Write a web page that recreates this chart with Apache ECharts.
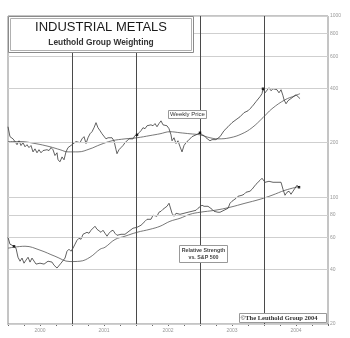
<!DOCTYPE html>
<html><head><meta charset="utf-8">
<script src="https://cdn.jsdelivr.net/npm/echarts@6/dist/echarts.min.js"></script>
<style>html,body{margin:0;padding:0;background:#fff}#c{width:350px;height:338px}</style>
</head><body><div id="c"></div>
<script>
// Weekly price (decimal year, value)
const priceX = [2000.000,2000.031,2000.078,2000.109,2000.141,2000.172,2000.203,2000.234,2000.266,2000.297,2000.328,2000.359,2000.391,2000.422,2000.453,2000.484,2000.516,2000.547,2000.578,2000.609,2000.641,2000.672,2000.703,2000.734,2000.766,2000.781,2000.813,2000.844,2000.875,2000.906,2000.938,2000.969,
2001.000,2001.031,2001.063,2001.094,2001.125,2001.156,2001.188,2001.219,2001.250,2001.281,2001.313,2001.344,2001.375,2001.406,2001.438,2001.469,2001.500,2001.531,2001.563,2001.594,2001.625,2001.656,2001.688,2001.703,2001.734,2001.766,2001.797,2001.828,2001.859,2001.891,2001.922,2001.953,2001.984,
2002.016,2002.047,2002.078,2002.109,2002.141,2002.172,2002.203,2002.234,2002.266,2002.297,2002.328,2002.359,2002.391,2002.422,2002.453,2002.484,2002.516,2002.547,2002.563,2002.594,2002.625,2002.656,2002.688,2002.719,2002.750,2002.781,2002.813,2002.844,2002.875,2002.906,2002.938,2002.969,
2003.000,2003.031,2003.063,2003.094,2003.125,2003.156,2003.188,2003.219,2003.250,2003.281,2003.313,2003.344,2003.375,2003.406,2003.438,2003.469,2003.500,2003.531,2003.563,2003.594,2003.625,2003.656,2003.688,2003.719,2003.750,2003.781,2003.813,2003.844,2003.875,2003.906,2003.938,2003.969,2003.984,
2004.016,2004.047,2004.078,2004.109,2004.141,2004.172,2004.203,2004.234,2004.266,2004.297,2004.313,2004.344,2004.375,2004.406,2004.438,2004.469,2004.500,2004.531,2004.563];
const priceY = [245,216,210,203,195,205,193,200,190,195,188,193,178,185,176,183,176,181,178,183,181,188,183,170,176,161,157,167,161,178,188,190,
195,193,203,208,200,210,216,198,213,224,230,242,258,242,233,224,219,210,213,208,213,205,183,174,183,188,193,200,198,210,213,210,219,
221,227,233,242,239,248,245,251,248,255,245,255,264,251,245,248,239,221,205,213,198,205,190,178,193,200,205,210,216,219,221,224,
227,221,219,213,216,205,208,210,208,213,216,221,233,236,245,248,258,261,268,271,278,285,293,289,300,308,316,324,337,345,359,373,397,
377,368,402,387,397,407,392,377,392,363,345,328,341,345,354,359,368,359,350];

// Price moving average
const priceMaX = [2000.000,2000.188,2000.422,2000.656,2000.813,2000.938,2001.094,2001.281,2001.438,2001.625,2001.828,2002.016,2002.219,2002.375,2002.531,2002.688,2002.844,2003.000,2003.156,2003.281,2003.469,2003.656,2003.813,2003.984,2004.125,2004.328,2004.484,2004.563];
const priceMaY = [203,203,198,190,183,178,178,185,195,205,210,213,219,224,230,227,224,221,213,210,213,224,242,275,308,345,363,373];

// Relative strength vs. S&P 500
const rsX = [2000.000,2000.031,2000.063,2000.094,2000.125,2000.156,2000.188,2000.219,2000.250,2000.281,2000.313,2000.344,2000.375,2000.406,2000.438,2000.469,2000.500,2000.531,2000.563,2000.594,2000.625,2000.656,2000.688,2000.719,2000.750,2000.766,2000.797,2000.828,2000.859,2000.891,2000.922,2000.953,2000.984,
2001.016,2001.047,2001.078,2001.109,2001.141,2001.172,2001.203,2001.234,2001.266,2001.297,2001.328,2001.359,2001.391,2001.422,2001.453,2001.484,2001.516,2001.547,2001.578,2001.609,2001.641,2001.672,2001.703,2001.734,2001.766,2001.797,2001.828,2001.859,2001.891,2001.922,2001.953,2001.984,
2002.016,2002.047,2002.078,2002.109,2002.141,2002.172,2002.203,2002.234,2002.266,2002.297,2002.328,2002.359,2002.391,2002.422,2002.453,2002.484,2002.516,2002.531,2002.563,2002.594,2002.625,2002.656,2002.688,2002.719,2002.750,2002.781,2002.813,2002.844,2002.875,2002.906,2002.938,2002.969,
2003.000,2003.031,2003.063,2003.094,2003.125,2003.156,2003.188,2003.219,2003.250,2003.281,2003.313,2003.344,2003.375,2003.406,2003.438,2003.469,2003.500,2003.531,2003.563,2003.594,2003.625,2003.656,2003.688,2003.719,2003.750,2003.781,2003.813,2003.844,2003.875,2003.906,2003.938,2003.969,2003.984,
2004.016,2004.047,2004.078,2004.109,2004.141,2004.172,2004.203,2004.234,2004.266,2004.297,2004.328,2004.359,2004.391,2004.422,2004.453,2004.484,2004.516,2004.547];
const rsY = [60.2,55.1,54.4,53.7,52.4,46.7,44.4,46.2,43.3,45.0,46.7,43.9,46.2,45.6,42.8,42.2,43.3,43.9,42.8,43.3,44.4,45.0,43.9,42.2,41.2,40.7,41.7,43.3,43.9,46.2,50.4,51.7,50.4,
52.4,55.1,57.9,59.4,58.7,62.5,61.7,64.1,63.3,65.8,66.6,69.2,66.6,65.0,64.1,65.8,63.3,61.0,63.3,65.0,65.8,63.3,61.7,61.0,62.5,61.7,62.5,63.3,65.0,65.8,67.5,68.3,
68.3,67.5,70.1,71.9,73.7,75.6,76.6,75.6,79.6,80.6,78.6,82.7,83.7,85.9,87.0,89.2,92.7,93.9,81.6,78.6,81.6,79.6,80.6,79.6,81.6,80.6,82.7,81.6,83.7,82.7,84.8,87.0,
89.2,90.4,89.2,90.4,89.2,87.0,85.9,83.7,83.7,82.7,82.7,83.7,84.8,84.8,87.0,92.7,95.1,97.5,98.7,101.3,100,102.6,103.9,106.6,105.2,108.0,110.7,112.1,118.0,121.0,124.1,127.3,128.9,
121.0,119.5,122.5,119.5,121.0,118.0,121.0,122.5,121.0,110.7,102.6,106.6,108.0,103.9,108.0,110.7,116.5,113.6];

// Relative strength moving average
const rsMaX = [2000.000,2000.266,2000.500,2000.734,2000.969,2001.125,2001.281,2001.438,2001.516,2001.672,2001.828,2002.016,2002.219,2002.375,2002.531,2002.688,2002.844,2003.000,2003.234,2003.469,2003.703,2003.938,2004.125,2004.328,2004.563];
const rsMaY = [52.4,53.7,51.1,47.3,44.2,44.4,46.7,51.7,53.0,58.5,61.0,64.1,66.6,69.2,73.7,76.6,80.6,82.7,84.8,88.1,92.7,97.5,102.6,109.3,115.0];

const yTicks = [20,40,60,80,100,200,400,600,800,1000];
const yearLines = [2001,2002,2003,2004];
const yearLabels = ['2000','2001','2002','2003','2004'];
const dotPriceX = [2002.016,2003.000,2003.984];
const dotRsX = [2000.094,2004.547];

const zip = (xs, ys) => xs.map((x, i) => [x, ys[i]]);
const dots = [];
dotPriceX.forEach(d => { const i = priceX.indexOf(d); if (i >= 0) dots.push([priceX[i], priceY[i]]); });
dotRsX.forEach(d => { const i = rsX.indexOf(d); if (i >= 0) dots.push([rsX[i], rsY[i]]); });

const chart = echarts.init(document.getElementById('c'), null, {renderer: 'canvas'});
const lineBase = {type: 'line', showSymbol: false, symbol: 'none', silent: true, animation: false};
chart.setOption({
  animation: false,
  grid: {left: 8, right: 22, top: 16, bottom: 14, show: true, borderColor: '#8a8a8a', borderWidth: 1, backgroundColor: '#fff'},
  xAxis: {
    type: 'value', min: 2000, max: 2005, interval: 0.25,
    axisLine: {show: true, lineStyle: {color: '#777', width: 1}},
    axisTick: {show: true, length: 2, lineStyle: {color: '#666'}},
    splitLine: {show: false},
    axisLabel: {
      fontSize: 5, color: '#999', margin: 4, fontFamily: 'Liberation Sans',
      formatter: v => { const f = v - Math.floor(v); return Math.abs(f - 0.5) < 1e-6 ? (yearLabels[Math.floor(v) - 2000] || '') : ''; }
    }
  },
  yAxis: {
    type: 'log', logBase: 10, min: 20, max: 1000, position: 'right',
    axisLine: {show: false}, axisTick: {show: false}, axisLabel: {show: false}, splitLine: {show: false}
  },
  series: [
    Object.assign({}, lineBase, {
      name: 'grid', z: 1, data: [[2000, 100]], lineStyle: {opacity: 0},
      markLine: {
        silent: true, symbol: 'none', animation: false,
        lineStyle: {color: '#cfcfcf', width: 1, type: 'solid'},
        label: {show: true, position: 'end', distance: 2, formatter: p => String(p.value), fontSize: 5, color: '#999', fontFamily: 'Liberation Sans'},
        data: yTicks.map(v => ({yAxis: v}))
      }
    }),
    Object.assign({}, lineBase, {
      name: 'years', z: 2, data: [[2000, 100]], lineStyle: {opacity: 0},
      markLine: {
        silent: true, symbol: 'none', animation: false,
        lineStyle: {color: '#4a4a4a', width: 1, type: 'solid'},
        label: {show: false},
        data: yearLines.map(v => ({xAxis: v}))
      }
    }),
    Object.assign({}, lineBase, {name: 'Price MA', z: 3, smooth: 0.4, data: zip(priceMaX, priceMaY), lineStyle: {color: '#555', width: 0.8}}),
    Object.assign({}, lineBase, {name: 'Weekly Price', z: 4, data: zip(priceX, priceY), lineStyle: {color: '#3a3a3a', width: 0.8}}),
    Object.assign({}, lineBase, {name: 'RS MA', z: 3, smooth: 0.4, data: zip(rsMaX, rsMaY), lineStyle: {color: '#555', width: 0.8}}),
    Object.assign({}, lineBase, {name: 'Relative Strength', z: 4, data: zip(rsX, rsY), lineStyle: {color: '#3a3a3a', width: 0.8}}),
    {type: 'scatter', z: 5, silent: true, symbol: 'rect', symbolSize: 2.5, itemStyle: {color: '#000'}, data: dots}
  ],
  graphic: [
    {type: 'rect', z: 100, shape: {x: 8.5, y: 16.5, width: 185, height: 36}, style: {fill: '#fff', stroke: '#8a8a8a', lineWidth: 1}},
    {type: 'rect', z: 101, shape: {x: 10.5, y: 18.5, width: 181, height: 32}, style: {fill: 'none', stroke: '#b0b0b0', lineWidth: 1}},
    {type: 'text', z: 102, x: 101, y: 27, style: {text: 'INDUSTRIAL METALS', font: '13px "Liberation Sans"', fill: '#1a1a1a', align: 'center', verticalAlign: 'middle'}},
    {type: 'text', z: 102, x: 101, y: 43, style: {text: 'Leuthold Group Weighting', font: 'bold 8.4px "Liberation Sans"', fill: '#333', align: 'center', verticalAlign: 'middle'}},
    {type: 'rect', z: 100, shape: {x: 168.5, y: 110.5, width: 38, height: 8}, style: {fill: '#fff', stroke: '#999', lineWidth: 1}},
    {type: 'text', z: 102, x: 187.5, y: 114.7, style: {text: 'Weekly Price', font: '6px "Liberation Sans"', fill: '#333', align: 'center', verticalAlign: 'middle'}},
    {type: 'rect', z: 100, shape: {x: 179.5, y: 245.5, width: 48, height: 17}, style: {fill: '#fff', stroke: '#999', lineWidth: 1}},
    {type: 'text', z: 102, x: 203.5, y: 250.5, style: {text: 'Relative Strength', font: 'bold 5.3px "Liberation Sans"', fill: '#444', align: 'center', verticalAlign: 'middle'}},
    {type: 'text', z: 102, x: 203.5, y: 257.5, style: {text: 'vs. S&P 500', font: 'bold 5.3px "Liberation Sans"', fill: '#444', align: 'center', verticalAlign: 'middle'}},
    {type: 'rect', z: 100, shape: {x: 239.5, y: 313.5, width: 87, height: 9}, style: {fill: '#fff', stroke: '#999', lineWidth: 1}},
    {type: 'text', z: 102, x: 279, y: 318.2, style: {text: '\u00A9The Leuthold Group 2004', font: 'bold 6.5px "Liberation Serif"', fill: '#333', align: 'center', verticalAlign: 'middle'}}
  ]
});
</script>
</body></html>
